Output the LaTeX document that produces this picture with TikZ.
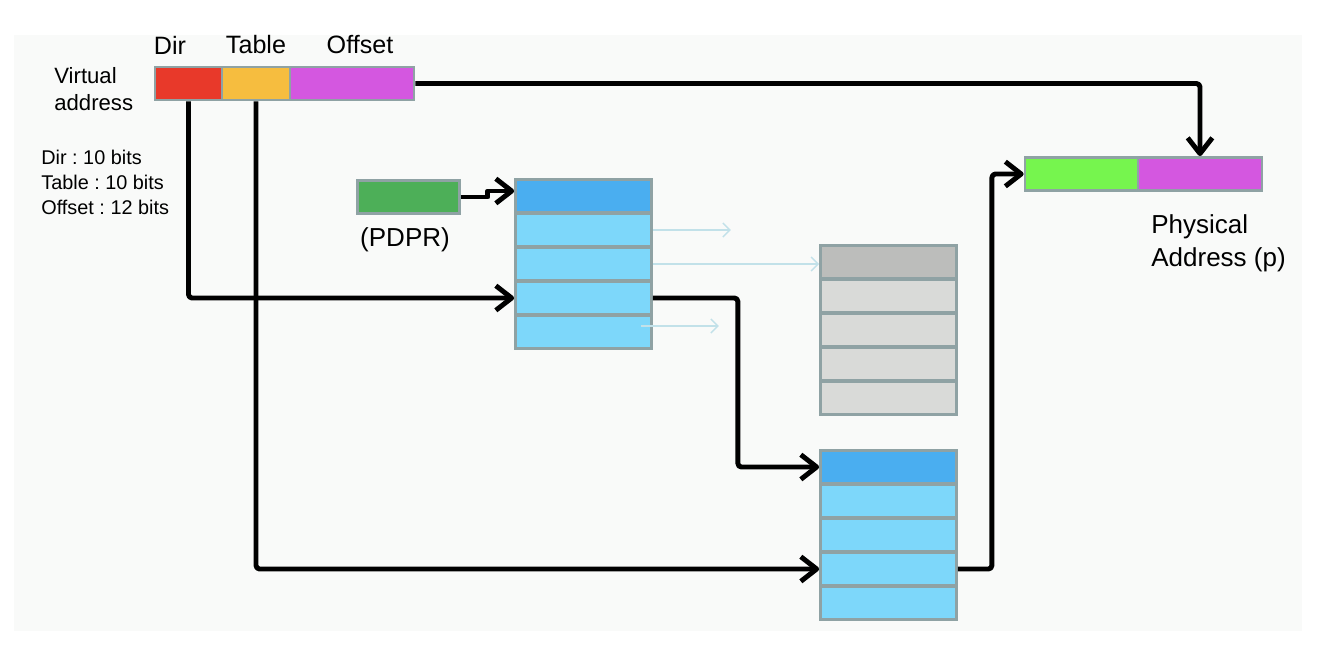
\documentclass[tikz,border=0pt]{standalone}
\usepackage{fontspec}
\setmainfont{Liberation Sans}
\usepackage{tikz}
\usetikzlibrary{arrows.meta, calc}
\frenchspacing
\definecolor{slide-bg}{HTML}{F9FAF9}
\definecolor{frame-gray}{HTML}{8FA2A4}
\definecolor{dir-red}{HTML}{E8392A}
\definecolor{table-yellow}{HTML}{F6BD3F}
\definecolor{offset-pink}{HTML}{D457E0}
\definecolor{pdpr-green}{HTML}{4DAF58}
\definecolor{phys-green}{HTML}{76F54E}
\definecolor{row-dark}{HTML}{4AAEF0}
\definecolor{row-light}{HTML}{7DD7FA}
\definecolor{gray-dark}{HTML}{BCBDBB}
\definecolor{gray-light}{HTML}{D9DAD8}
\definecolor{faint}{HTML}{C2E1E9}
\tikzset{
	cell/.style={draw=frame-gray, line width=1.6pt, inner sep=0pt, minimum height=0.66cm},
	rowcell/.style={cell, minimum width=2.72cm},
	link/.style={line width=2.8pt, rounded corners=2pt, line join=round, -{Straight Barb[length=9pt,width=14pt,line join=round]}},
	ghost/.style={draw=faint, line width=0.8pt, -{Straight Barb[length=4pt,width=8pt]}},
	big/.style={font=\fontsize{14.3pt}{17pt}\selectfont, inner sep=0pt},
	small/.style={font=\fontsize{11.3pt}{14.2pt}\selectfont, inner sep=0pt}
}

\begin{document}
\begin{tikzpicture}[x=0.02cm, y=-0.02cm]
					\useasboundingbox[fill=white] (0,0) rectangle (1338,650);
					\fill[slide-bg] (14,35) rectangle (1302,631);
					
					\node[big] at (170,45) (dirlbl) {Dir};
					\node[big] at (256,45) (tablbl) {Table};
					\node[big] at (360,45) (offlbl) {Offset};
					\node[big, align=left, anchor=west, font=\fontsize{12.6pt}{15.3pt}\selectfont] at (54,89) (valbl) {Virtual\\address};
					\node[small, align=left, anchor=west] at (41,182) (bitslbl) {Dir : 10 bits\\Table : 10 bits\\Offset : 12 bits};
					
					\node[cell, fill=dir-red, minimum width=1.34cm] at (188.5,83.5) (vdir) {};
					\node[cell, fill=table-yellow, minimum width=1.36cm] at (256,83.5) (vtab) {};
					\node[cell, fill=offset-pink, minimum width=2.48cm] at (352,83.5) (voff) {};
					
					\node[cell, fill=pdpr-green, minimum width=2.04cm] at (408.5,197) (pdpr) {};
					\node[big, font=\fontsize{14.8pt}{17pt}\selectfont] at (405,240) (pdprlbl) {(PDPR)};
					
					\foreach \i/\y/\c in {1/196/row-dark, 2/230/row-light, 3/264/row-light, 4/298/row-light, 5/332/row-light}
						\node[rowcell, fill=\c] at (583.5,\y) (pd\i) {};
					
					\foreach \i/\y/\c in {1/262/gray-dark, 2/296/gray-light, 3/330/gray-light, 4/364/gray-light, 5/398/gray-light}
						\node[rowcell, fill=\c] at (888.5,\y) (gt\i) {};
					
					\foreach \i/\y/\c in {1/467/row-dark, 2/501/row-light, 3/535/row-light, 4/569/row-light, 5/603/row-light}
						\node[rowcell, fill=\c] at (888.5,\y) (pt\i) {};
					
					\node[cell, fill=phys-green, minimum width=2.26cm] at (1081.5,174) (pgrn) {};
					\node[cell, fill=offset-pink, minimum width=2.48cm] at (1200,174) (pmag) {};
					\node[big, align=left, anchor=west, font=\fontsize{14.8pt}{18.7pt}\selectfont] at (1151,243) (palbl) {Physical\\Address (p)};
					
					\draw[ghost] (pd2.east) -- ++(78,0);
					\draw[ghost] (pd3.east) -- (pd3.east -| gt1.west);
					\draw[ghost] ($(pd5.east)+(-12,-6)$) -- ++(78,0);
					
					\draw[link] (voff.east) -| (pmag.north);
					\draw[link] (vdir.south) |- (pd4.west);
					\draw[link] (vtab.south) |- (pt4.west);
					\draw[link, rounded corners=0pt] (pdpr.east) -- ++(27,0) -- ++(0,-6) -- ($(pd1.west)+(0,-5)$);
					\draw[link] (pd4.east) -- ++(85,0) |- (pt1.west);
					\draw[link] (pt4.east) -- ++(34,0) |- (pgrn.west);
				\end{tikzpicture}
\end{document}
